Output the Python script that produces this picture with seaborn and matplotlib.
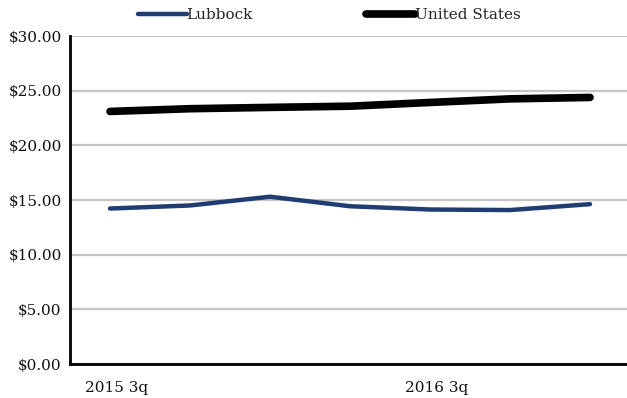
import matplotlib
matplotlib.use("Agg")
import matplotlib.pyplot as plt
import matplotlib.ticker as mticker
from matplotlib.lines import Line2D
import seaborn as sns
import pandas as pd

quarters = ["2015 3q", "2015 4q", "2016 1q", "2016 2q", "2016 3q", "2016 4q", "2017 1q"]
lubbock = [14.22, 14.50, 15.30, 14.43, 14.13, 14.08, 14.62]
united_states = [23.10, 23.35, 23.47, 23.58, 23.92, 24.25, 24.38]
series_names = ["Lubbock", "United States"]
tick_labels = ["2015 3q", "2016 3q"]

df = pd.DataFrame({
    "pos": list(range(len(quarters))) * 2,
    "quarter": quarters * 2,
    "wage": lubbock + united_states,
    "area": [series_names[0]] * len(quarters) + [series_names[1]] * len(quarters),
})

sns.set_theme(style="white")
plt.rcParams["font.family"] = ["DejaVu Serif"]

colors = {"Lubbock": "#1f3c73", "United States": "#000000"}
widths = {"Lubbock": 3.2, "United States": 5.5}
fs = 11

fig = plt.figure(figsize=(6.27, 3.98), dpi=100)
ax = fig.add_axes([70 / 627, 1 - 364 / 398, 1 - 70 / 627, (364 - 36) / 398])

for name in series_names:
    sub = df[df["area"] == name]
    sns.lineplot(data=sub, x="pos", y="wage", color=colors[name],
                 linewidth=widths[name], ax=ax, legend=False,
                 solid_capstyle="round", solid_joinstyle="round", zorder=3)

ax.set_xlim(-0.5, (627 - 110) / 80)
ax.set_ylim(0, 30)
ax.set_xlabel("")
ax.set_ylabel("")

ax.yaxis.set_major_locator(mticker.MultipleLocator(5))
ax.yaxis.set_major_formatter(mticker.FuncFormatter(lambda v, p: f"${v:,.2f}"))
ax.grid(axis="y", color="#c6c6c6", linewidth=1.6, zorder=0)
ax.set_axisbelow(True)

for side in ["top", "right"]:
    ax.spines[side].set_visible(False)
for side in ["left", "bottom"]:
    ax.spines[side].set_color("black")
    ax.spines[side].set_linewidth(2)

ax.tick_params(axis="y", which="major", direction="out", length=6, width=1.5,
               color="black", labelsize=fs, pad=0, labelcolor="#111111")

ax.set_xticks([0.08, 4.08])
ax.set_xticklabels(tick_labels)
ax.tick_params(axis="x", which="major", length=0, pad=12, labelsize=fs,
               labelcolor="#111111")
ax.set_xticks([-0.5, 3.5], minor=True)
ax.tick_params(axis="x", which="minor", direction="inout", length=12, width=1.5,
               color="black")

handles = [Line2D([0], [0], color=colors[n], linewidth=widths[n],
                  solid_capstyle="round") for n in series_names]
fig.legend(handles, series_names, loc="center", bbox_to_anchor=(0.525, 1 - 15 / 398),
           ncol=2, frameon=False, fontsize=fs, handlelength=3.2,
           handletextpad=0.0, columnspacing=7.4)

fig.savefig("out.png", dpi=100)
